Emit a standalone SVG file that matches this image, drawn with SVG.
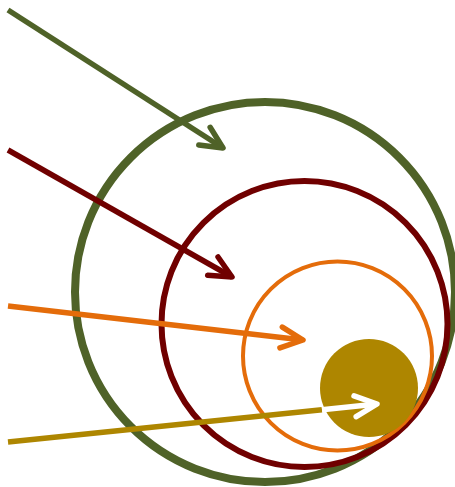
<svg xmlns="http://www.w3.org/2000/svg" width="455" height="487" viewBox="0 0 455 487">
<style>
.ring{fill:none}
.ln{fill:none;stroke-width:5.5;stroke-linecap:butt}
.hd{fill:none;stroke-width:5.5;stroke-linecap:round;stroke-linejoin:round}
</style>
<defs>
<marker id="mG" markerUnits="userSpaceOnUse" orient="auto" markerWidth="40" markerHeight="40" refX="0" refY="0" viewBox="-30 -15 40 30" overflow="visible"><path class="hd" d="M-22,-10.5 L0,0 L-22,10.5" stroke="#4f6228"/></marker>
<marker id="mR" markerUnits="userSpaceOnUse" orient="auto" markerWidth="40" markerHeight="40" refX="0" refY="0" viewBox="-30 -15 40 30" overflow="visible"><path class="hd" d="M-22,-10.5 L0,0 L-22,10.5" stroke="#700000"/></marker>
<marker id="mO" markerUnits="userSpaceOnUse" orient="auto" markerWidth="40" markerHeight="40" refX="0" refY="0" viewBox="-30 -15 40 30" overflow="visible"><path class="hd" d="M-22,-10.5 L0,0 L-22,10.5" stroke="#e46c0a"/></marker>
<marker id="mW" markerUnits="userSpaceOnUse" orient="auto" markerWidth="40" markerHeight="40" refX="0" refY="0" viewBox="-30 -15 40 30" overflow="visible"><path class="hd" d="M-22,-10.5 L0,0 L-22,10.5" stroke="#ffffff"/></marker>
</defs>
<g id="ring-green"><circle class="ring" cx="265" cy="292" r="190" stroke="#4f6228" stroke-width="8"/></g>
<g id="ring-red"><circle class="ring" cx="304.5" cy="324" r="143" stroke="#700000" stroke-width="6"/></g>
<g id="ring-orange"><circle class="ring" cx="337.5" cy="356" r="94.5" stroke="#e46c0a" stroke-width="4"/></g>
<g id="disc-gold"><circle cx="369" cy="388" r="49" fill="#ae8600"/></g>
<g id="connectors">
<line class="ln" x1="8" y1="10" x2="223" y2="148" stroke="#4f6228" marker-end="url(#mG)"/>
<line class="ln" x1="8" y1="150" x2="232" y2="277" stroke="#700000" marker-end="url(#mR)"/>
<line class="ln" x1="8" y1="306" x2="303" y2="340" stroke="#e46c0a" marker-end="url(#mO)"/>
<line class="ln" x1="8" y1="442" x2="322" y2="409.7" stroke="#ae8600"/>
<line class="ln" x1="322" y1="409.7" x2="377" y2="404" stroke="#ffffff" marker-end="url(#mW)"/>
</g>
</svg>
